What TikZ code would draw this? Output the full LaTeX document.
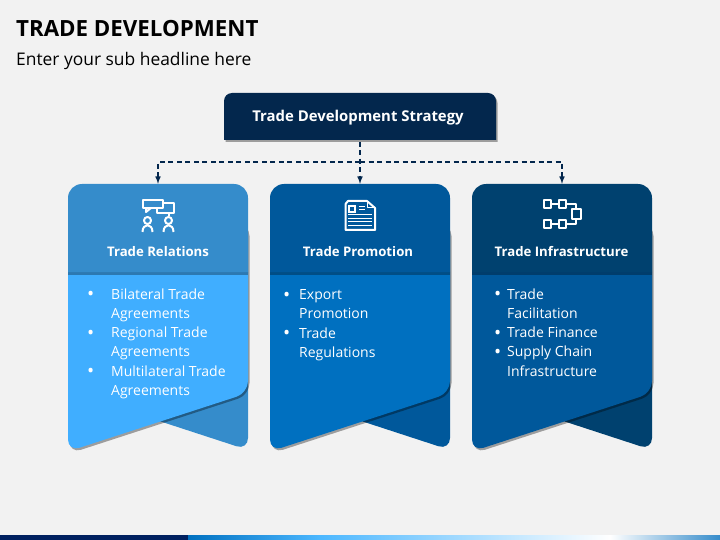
\documentclass[tikz,border=0pt]{standalone}
\usepackage{fontspec}
\setmainfont{Open Sans}
\usetikzlibrary{shadows,positioning}
\definecolor{PageGray}{HTML}{F2F2F2}
\definecolor{StrategyNavy}{HTML}{03274D}
\definecolor{BarNavy}{HTML}{002060}
\definecolor{RelHead}{HTML}{358CCB}
\definecolor{RelBody}{HTML}{40AEFF}
\definecolor{ProHead}{HTML}{00589B}
\definecolor{ProBody}{HTML}{0070C0}
\definecolor{InfHead}{HTML}{00416F}
\definecolor{InfBody}{HTML}{00589B}
\tikzstyle{cardshadow} = [drop shadow={shadow xshift=1.5pt,shadow yshift=-2pt,opacity=.35,fill=black}]
\tikzstyle{headslot} = [minimum width=180pt,minimum height=88pt,inner sep=0pt]
\tikzstyle{headtext} = [text=white,font=\fontsize{13.2}{16}\selectfont\bfseries]
\tikzstyle{listtext} = [text=white,anchor=north west,inner sep=0pt,align=left,font=\fontsize{14}{19.2}\selectfont]
\tikzstyle{dashlink} = [draw=StrategyNavy,line width=1.5pt,dash pattern=on 5pt off 3.5pt,-{latex}]
\tikzstyle{icon} = [draw=white,line width=2pt,line join=round]
\newcommand{\blt}[1]{\llap{\raisebox{-1.5pt}{\fontsize{19}{19.2}\selectfont\textbullet}\hspace{#1}}}
\begin{document}
\begin{tikzpicture}[x=1pt,y=-1pt]
	\useasboundingbox (0,0) rectangle (720,540);
	\fill[PageGray] (0,0) rectangle (720,540);
	% heading
	\node[anchor=base west,inner sep=0pt,font=\fontsize{22.3}{28}\selectfont\bfseries,text=black] (title) at (16,37) {TRADE DEVELOPMENT};
	\node[anchor=base west,inner sep=0pt,font=\fontsize{17.4}{20}\selectfont,text=black] (subtitle) at (16,65.5) {Enter your sub headline here};
	% bottom bar
	\fill[BarNavy] (0,535) rectangle (188,540);
	\shade[left color=ProBody,right color=cyan!60!blue!70!white] (188,535) rectangle (320,540);
	\shade[left color=cyan!60!blue!70!white,right color=white] (320,535) rectangle (610,540);
	\shade[left color=white,right color=RelHead] (610,535) rectangle (720,540);
	% top box
	\fill[StrategyNavy,cardshadow] (224,140) [rounded corners=8pt] -- (224,93) -- (496,93) [sharp corners] -- (496,140) -- cycle;
	\node[text=white,font=\fontsize{14.9}{18}\selectfont\bfseries,minimum width=272pt,minimum height=47pt,inner sep=0pt] (strategy) at (358,118) {Trade Development Strategy};
	% left card
	\fill[RelHead,rounded corners=12pt] (248,260) -- (248,450) -- (150,418) -- (150,260) -- cycle;
	\fill[RelBody,rounded corners=12pt,cardshadow] (68,222) -- (248,222) -- (248,393) -- (68,451.5) -- cycle;
	\fill[black,opacity=.3] (68,272) rectangle (248,275);
	\fill[RelHead] (68,272) [rounded corners=14pt] -- (68,184) -- (248,184) [sharp corners] -- (248,272) -- cycle;
	\node[headslot] (rel) at (158,228) {};
	\node[headtext] (reltitle) at (158,252) {Trade Relations};
	\node[listtext] (rellist) at (111,288.5) {\blt{17pt}Bilateral Trade\\Agreements\\\blt{17pt}Regional Trade\\Agreements\\\blt{17pt}Multilateral Trade\\Agreements};
	% middle card
	\fill[ProHead,rounded corners=12pt] (450,260) -- (450,450) -- (352,418) -- (352,260) -- cycle;
	\fill[ProBody,rounded corners=12pt,cardshadow] (270,222) -- (450,222) -- (450,393) -- (270,451.5) -- cycle;
	\fill[black,opacity=.3] (270,272) rectangle (450,275);
	\fill[ProHead] (270,272) [rounded corners=14pt] -- (270,184) -- (450,184) [sharp corners] -- (450,272) -- cycle;
	\node[headslot] (pro) at (360,228) {};
	\node[headtext] (protitle) at (358,252) {Trade Promotion};
	\node[listtext] (prolist) at (299,289.5) {\blt{9pt}Export\\Promotion\\\blt{9pt}Trade\\Regulations};
	% right card
	\fill[InfHead,rounded corners=12pt] (652,260) -- (652,450) -- (554,418) -- (554,260) -- cycle;
	\fill[InfBody,rounded corners=12pt,cardshadow] (472,222) -- (652,222) -- (652,393) -- (472,451.5) -- cycle;
	\fill[black,opacity=.3] (472,272) rectangle (652,275);
	\fill[InfHead] (472,272) [rounded corners=14pt] -- (472,184) -- (652,184) [sharp corners] -- (652,272) -- cycle;
	\node[headslot] (inf) at (562,228) {};
	\node[headtext] (inftitle) at (561.5,252) {Trade Infrastructure};
	\node[listtext] (inflist) at (507,288.5) {\blt{6pt}Trade\\Facilitation\\\blt{6pt}Trade Finance\\\blt{6pt}Supply Chain\\Infrastructure};
	% connectors
	\coordinate (bus) at (360,162);
	\draw[dashlink] (strategy.south -| pro.north) -- (pro.north);
	\draw[dashlink] (bus) -| (rel.north);
	\draw[dashlink] (bus) -| (inf.north);
	% icon left
	\draw[icon] (143,200) rectangle (163,208);
	\draw[icon] (146,208) -- (146,212) -- (151,208);
	\draw[icon] (163,203) -- (174,203) -- (174,213) -- (157,213) -- (157,208);
	\draw[icon] (169,213) -- (169,216);
	\draw[icon] (147.5,220.5) circle [radius=3.5pt];
	\draw[icon] (168.5,220.5) circle [radius=3.5pt];
	\draw[icon] (142.5,232) .. controls (142.5,223) and (152.5,223) .. (152.5,232);
	\draw[icon] (163.5,232) .. controls (163.5,223) and (173.5,223) .. (173.5,232);
	% icon middle
	\draw[icon] (345.5,204) -- (345.5,230) -- (375,230) -- (375,208) -- (367,201) -- (348,201) -- (345.5,204);
	\draw[icon,line width=1pt] (367,201) -- (367,208) -- (375,208);
	\fill[white] (348,205) rectangle (356,213);
	\fill[ProHead] (350,207) rectangle (354,211);
	\draw[icon,line width=1pt] (359,207) -- (365,207) (359,210) -- (365,210);
	\draw[icon,line width=1pt] (348,215) -- (372,215) (348,218.5) -- (372,218.5) (348,222) -- (372,222) (348,225.5) -- (372,225.5);
	% icon right
	\draw[icon] (543.5,200.5) rectangle (550.5,208);
	\draw[icon] (558.5,200.5) rectangle (565.5,208);
	\draw[icon] (543.5,220.5) rectangle (550.5,228);
	\draw[icon] (558.5,220.5) rectangle (565.5,228);
	\draw[icon] (572,209.5) rectangle (580.5,219);
	\draw[icon,line width=1.6pt] (550.5,204) -- (558.5,204) (550.5,224) -- (558.5,224);
	\draw[icon,line width=1.6pt] (565.5,204) -- (576,204) -- (576,209.5) (565.5,224) -- (576,224) -- (576,219);
\end{tikzpicture}
\end{document}
